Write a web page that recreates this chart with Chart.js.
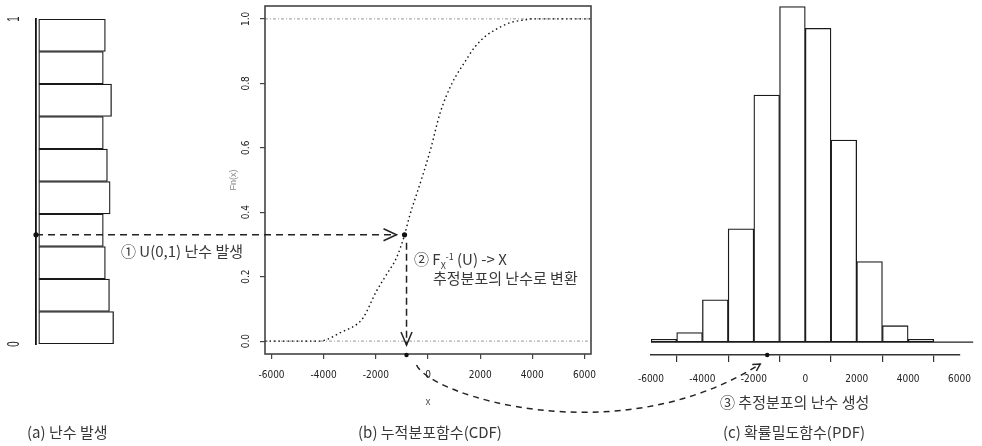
<!DOCTYPE html>
<html>
<head>
<meta charset="utf-8">
<script src="https://cdn.jsdelivr.net/npm/chart.js@4.4.1/dist/chart.umd.min.js"></script>
<style>
  body { margin: 0; background: #fff; }
  #wrap { position: relative; width: 982px; height: 446px; overflow: hidden; }
  canvas { position: absolute; left: 0; top: 0; }
  .lbl { position: absolute; font-family: "Noto Sans CJK KR", sans-serif; font-size: 15px; line-height: 18px; color: #383838; white-space: nowrap; }
  .sm { font-size: 9px; position: relative; }
</style>
</head>
<body>
<div id="wrap">
  <canvas id="uniChart" width="982" height="446"></canvas>
  <canvas id="cdfChart" width="982" height="446"></canvas>
  <canvas id="pdfChart" width="982" height="446"></canvas>

  <div class="lbl" style="left:121px;top:242px">① U(0,1) 난수 발생</div>
  <div class="lbl" style="left:414px;top:250px">② F<span class="sm" style="top:4px">X</span><span class="sm" style="top:-5px">-1</span> (U) -&gt; X</div>
  <div class="lbl" style="left:433px;top:269px">추정분포의 난수로 변환</div>
  <div class="lbl" style="left:720px;top:393px">③ 추정분포의 난수 생성</div>
  <div class="lbl" style="left:27px;top:423px">(a) 난수 발생</div>
  <div class="lbl" style="left:430px;top:423px;transform:translateX(-50%)">(b) 누적분포함수(CDF)</div>
  <div class="lbl" style="left:794px;top:423px;transform:translateX(-50%)">(c) 확률밀도함수(PDF)</div>
</div>

<script>
// (a) uniform random numbers, 10 bins from bottom (0) to top (1)
const uniformBinMids = [0.05, 0.15, 0.25, 0.35, 0.45, 0.55, 0.65, 0.75, 0.85, 0.95];
const uniformCounts = [109, 103, 97, 94, 104, 100, 94, 106, 94, 97];
const uniformTicks = [0, 1];

const cdfX = [-6250, -4140, -3880, -3370, -2730, -2480, -1970, -1580, -1200, -920, -700, -433, -240, 115, 460, 920, 1340, 1800, 2260, 2570, 3140, 3720, 4000, 6250];
const cdfY = [0, 0, 0.005, 0.026, 0.052, 0.073, 0.156, 0.208, 0.26, 0.324, 0.39, 0.457, 0.505, 0.60, 0.707, 0.80, 0.857, 0.913, 0.95, 0.966, 0.988, 0.997, 1.0, 1.0];
const cdfRefLevels = [0, 1];
const cdfXTicks = [-6000, -4000, -2000, 0, 2000, 4000, 6000];
const cdfYTicks = [0, 0.2, 0.4, 0.6, 0.8, 1.0];

// (c) histogram of generated numbers, bins of 1000
const histMids = [-5500, -4500, -3500, -2500, -1500, -500, 500, 1500, 2500, 3500, 4500];
const histCounts = [2, 7, 31, 83, 181, 246, 230, 148, 59, 12, 2];
const histTicks = [-6000, -4000, -2000, 0, 2000, 4000, 6000];

// the example random number followed through the three panels
const pickU = 0.33;
const pickX = -900;
const histMarkX = -1480;

const tickFont = { family: "'Liberation Sans Narrow', 'DejaVu Sans Condensed', 'Liberation Sans', sans-serif", size: 10 };
const tickFontCss = "10px 'Liberation Sans Narrow', 'DejaVu Sans Condensed', 'Liberation Sans', sans-serif";

//draws tick labels turned 90 degrees like R does on the y axis
function rotatedTicks(id, scaleId, values, offset, font, squeeze, fmt) {
    return {
        id: id,
        afterDraw(chart) {
            const s = chart.scales[scaleId];
            const ctx = chart.ctx;
            ctx.save();
            ctx.font = font;
            ctx.fillStyle = '#222';
            ctx.textAlign = 'center';
            ctx.textBaseline = 'middle';
            values.forEach(v => {
                ctx.save();
                ctx.translate(chart.chartArea.left - offset, s.getPixelForValue(v));
                ctx.rotate(-Math.PI / 2);
                ctx.scale(squeeze, 1);
                ctx.fillText(fmt(v), 0, 0);
                ctx.restore();
            });
            ctx.restore();
        }
    };
}

function dot(ctx, x, y, r) {
    ctx.beginPath();
    ctx.arc(x, y, r, 0, Math.PI * 2);
    ctx.fill();
}

//(a) uniform histogram
const uniChart = new Chart(document.getElementById('uniChart'), {
    type: 'bar',
    data: {
        datasets: [{
            data: uniformBinMids.map((m, i) => ({ x: uniformCounts[i], y: m })),
            backgroundColor: '#fff',
            borderColor: '#1a1a1a',
            borderWidth: 1.3,
            borderSkipped: false,
            barPercentage: 1,
            categoryPercentage: 1
        }]
    },
    options: {
        indexAxis: 'y',
        responsive: false,
        animation: false,
        events: [],
        layout: { padding: { left: 0, top: 19, right: 854, bottom: 102 } },
        plugins: { legend: { display: false }, tooltip: { enabled: false } },
        scales: {
            x: { type: 'linear', min: -4, max: 130, display: false },
            y: {
                type: 'linear', min: 0, max: 1, offset: false,
                afterBuildTicks: s => { s.ticks = uniformTicks.map(v => ({ value: v })); },
                afterFit: s => { s.width = 36; },
                ticks: { display: false },
                grid: { display: false },
                border: { display: true, color: '#111', width: 1.8 }
            }
        }
    },
    plugins: [rotatedTicks('uniTicks', 'y', uniformTicks, 21, "16px 'Liberation Sans', sans-serif", 0.6, v => String(v))]
});

//(b) CDF
const cdfChart = new Chart(document.getElementById('cdfChart'), {
    type: 'line',
    data: {
        datasets: [{
            data: cdfX.map((x, i) => ({ x: x, y: cdfY[i] })),
            borderColor: '#111',
            borderWidth: 1.4,
            borderDash: [1.5, 3],
            pointRadius: 0,
            cubicInterpolationMode: 'monotone',
            fill: false
        }].concat(cdfRefLevels.map(v => ({
            data: [{ x: -6250, y: v }, { x: 6250, y: v }],
            borderColor: '#9a9a9a',
            borderWidth: 1,
            borderDash: [3, 2, 1, 2],
            pointRadius: 0,
            fill: false
        })))
    },
    options: {
        responsive: false,
        animation: false,
        events: [],
        layout: { padding: { left: 224, top: 6, right: 391, bottom: 34 } },
        plugins: { legend: { display: false }, tooltip: { enabled: false } },
        scales: {
            x: {
                type: 'linear', min: -6250, max: 6250,
                afterBuildTicks: s => { s.ticks = cdfXTicks.map(v => ({ value: v })); },
                afterFit: s => { s.height = 58; },
                ticks: { font: tickFont, color: '#222', padding: 10, maxRotation: 0, autoSkip: false, callback: v => String(v) },
                grid: { drawOnChartArea: false, tickLength: 5, color: '#444', lineWidth: 1.2 },
                border: { display: false },
                title: { display: true, text: 'x', font: { family: "'Liberation Sans', sans-serif", size: 10 }, color: '#555', padding: { top: 0, bottom: 4 } }
            },
            y: {
                type: 'linear', min: -0.04, max: 1.04,
                afterBuildTicks: s => { s.ticks = cdfYTicks.map(v => ({ value: v })); },
                afterFit: s => { s.width = 41; },
                ticks: { display: false },
                grid: { drawOnChartArea: false, tickLength: 5, color: '#444', lineWidth: 1.2 },
                border: { display: false },
                title: { display: true, text: 'Fn(x)', font: { family: "'Liberation Sans', sans-serif", size: 9 }, color: '#888', padding: { top: 4, bottom: 0 } }
            }
        }
    },
    plugins: [
        rotatedTicks('cdfTicks', 'y', cdfYTicks, 19, tickFontCss, 1, v => v.toFixed(1)),
        {
            id: 'box',
            afterDraw(chart) {
                const a = chart.chartArea, ctx = chart.ctx;
                ctx.save();
                ctx.strokeStyle = '#444';
                ctx.lineWidth = 1.6;
                ctx.strokeRect(a.left, a.top, a.right - a.left, a.bottom - a.top);
                ctx.restore();
            }
        }
    ]
});

//(c) histogram + arrows tying the panels together
const pdfChart = new Chart(document.getElementById('pdfChart'), {
    type: 'bar',
    data: {
        datasets: [{
            data: histMids.map((m, i) => ({ x: m, y: histCounts[i] })),
            backgroundColor: '#fff',
            borderColor: '#1a1a1a',
            borderWidth: 1.3,
            borderSkipped: false,
            barPercentage: 1,
            categoryPercentage: 1
        }, {
            type: 'line',
            data: [{ x: -6000, y: 0 }, { x: 6530, y: 0 }],
            borderColor: '#222',
            borderWidth: 1.3,
            pointRadius: 0,
            clip: false
        }]
    },
    options: {
        responsive: false,
        animation: false,
        events: [],
        layout: { padding: { left: 651, top: 1, right: 14, bottom: 61 } },
        plugins: { legend: { display: false }, tooltip: { enabled: false } },
        scales: {
            x: {
                type: 'linear', min: -6000, max: 6000, offset: false,
                afterBuildTicks: s => { s.ticks = histTicks.map(v => ({ value: v })); },
                afterFit: s => { s.height = 30; },
                ticks: { font: tickFont, color: '#222', padding: 11, maxRotation: 0, autoSkip: false, callback: v => String(v) },
                grid: { drawOnChartArea: false, tickLength: 7, color: '#333', lineWidth: 1.2 },
                border: { display: true, color: '#333', width: 1.4 }
            },
            y: { type: 'linear', min: -9.5, max: 250, display: false }
        }
    },
    plugins: [{
        id: 'connectors',
        afterDraw(chart) {
            const ctx = chart.ctx;
            const cx = cdfChart.scales.x, cy = cdfChart.scales.y;
            const px = cx.getPixelForValue(pickX);
            const py = cy.getPixelForValue(pickU);
            const axisX = uniChart.chartArea.left;
            const cdfBottom = cdfChart.chartArea.bottom;
            const hx = chart.scales.x.getPixelForValue(histMarkX);
            const hy = chart.chartArea.bottom;

            ctx.save();
            ctx.strokeStyle = '#222';
            ctx.fillStyle = '#111';
            ctx.lineWidth = 1.5;

            //① horizontal dashed arrow from the uniform axis to the CDF
            ctx.setLineDash([7, 5]);
            ctx.beginPath();
            ctx.moveTo(axisX, py);
            ctx.lineTo(px - 8, py);
            ctx.stroke();
            ctx.setLineDash([]);
            ctx.beginPath();
            ctx.moveTo(px - 21, py - 6);
            ctx.lineTo(px - 8, py);
            ctx.lineTo(px - 21, py + 6);
            ctx.stroke();

            //② vertical dashed arrow down to the x axis
            ctx.setLineDash([7, 4]);
            ctx.beginPath();
            ctx.moveTo(px + 2, py + 8);
            ctx.lineTo(px + 2, cdfBottom - 9);
            ctx.stroke();
            ctx.setLineDash([]);
            ctx.beginPath();
            ctx.moveTo(px - 3.5, cdfBottom - 22);
            ctx.lineTo(px + 2, cdfBottom - 9);
            ctx.lineTo(px + 7.5, cdfBottom - 22);
            ctx.stroke();

            //③ curved dashed arrow to the histogram axis
            const p0 = { x: px + 12, y: cdfBottom + 11 };
            const p3 = { x: hx - 7, y: hy + 9 };
            const p1 = { x: p0.x + 13, y: p0.y + 30 };
            const p2 = { x: p3.x - 143, y: p3.y + 91 };
            ctx.setLineDash([6, 5]);
            ctx.beginPath();
            ctx.moveTo(p0.x, p0.y);
            ctx.bezierCurveTo(p1.x, p1.y, p2.x, p2.y, p3.x, p3.y);
            ctx.stroke();
            ctx.setLineDash([]);
            const ang = Math.atan2(p3.y - p2.y, p3.x - p2.x);
            ctx.beginPath();
            ctx.moveTo(p3.x - 8 * Math.cos(ang - 0.5), p3.y - 8 * Math.sin(ang - 0.5));
            ctx.lineTo(p3.x, p3.y);
            ctx.lineTo(p3.x - 8 * Math.cos(ang + 0.5), p3.y - 8 * Math.sin(ang + 0.5));
            ctx.stroke();

            //dots
            dot(ctx, axisX, py, 2.6);
            dot(ctx, px, py, 2.6);
            dot(ctx, px + 2, cdfBottom + 1, 2.2);
            dot(ctx, hx, hy, 2.2);
            ctx.restore();
        }
    }]
});
</script>
</body>
</html>
